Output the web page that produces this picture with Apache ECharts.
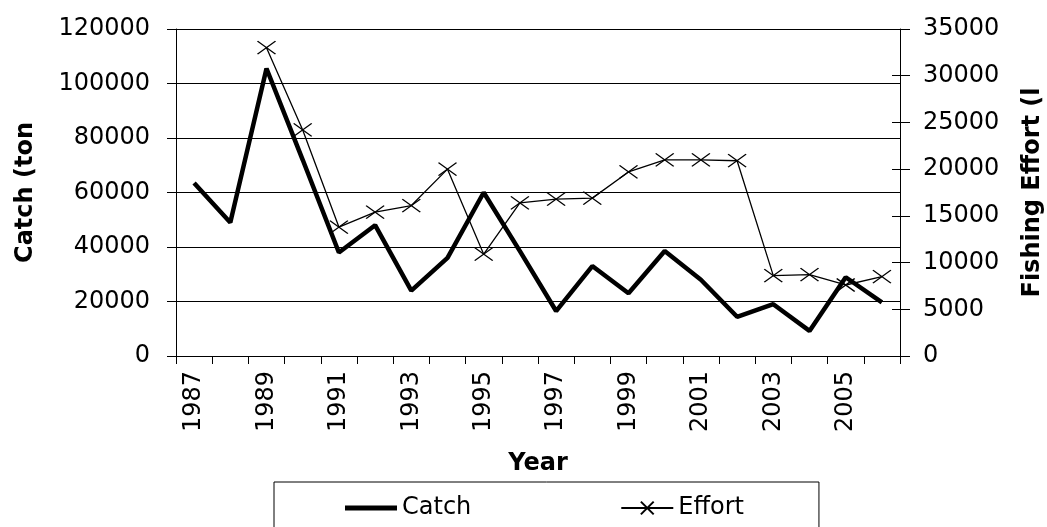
<!DOCTYPE html>
<html>
<head>
<meta charset="utf-8">
<script src="https://cdn.jsdelivr.net/npm/echarts@6/dist/echarts.min.js"></script>
<style>
html,body{margin:0;padding:0;background:#fff;}
#c{width:1047px;height:527px;}
</style>
</head>
<body>
<div id="c"></div>
<script>
const years = ['1987','1988','1989','1990','1991','1992','1993','1994','1995','1996','1997','1998','1999','2000','2001','2002','2003','2004','2005','2006'];
const catchValues = [63500, 49000, 105500, 72000, 38000, 48000, 24000, 36000, 60000, 38500, 16500, 33000, 23000, 38500, 28000, 14400, 19000, 9200, 28900, 19700];
const effortValues = [null, null, 33000, 24200, 13800, 15400, 16100, 20000, 10900, 16400, 16800, 16900, 19700, 21000, 21000, 20900, 8600, 8700, 7600, 8500];

const FONT = 'DejaVu Sans';
const plain = v => String(v);
const chart = echarts.init(document.getElementById('c'), null, {renderer: 'canvas'});
chart.setOption({
  animation: false,
  backgroundColor: '#fff',
  textStyle: {fontFamily: FONT, color: '#000'},
  grid: {left: 176, right: 147, top: 29, bottom: 171, containLabel: false, outerBoundsMode: 'none'},
  legend: {
    left: 274, top: 482,
    padding: [14, 75, 20, 71],
    itemGap: 149,
    itemWidth: 52, itemHeight: 16,
    borderColor: '#000', borderWidth: 1,
    textStyle: {fontFamily: FONT, fontSize: 24, color: '#000'},
    data: [
      {name: 'Catch', icon: 'path://M0,5.5L52,5.5L52,10.5L0,10.5Z M0,0L0,0 M52,16L52,16', itemStyle: {color: '#000'}},
      {name: 'Effort'}
    ]
  },
  xAxis: {
    type: 'category',
    data: years,
    name: 'Year',
    nameLocation: 'middle',
    nameGap: 96,
    nameTextStyle: {fontFamily: FONT, fontSize: 24, fontWeight: 'bold', color: '#000'},
    axisLine: {lineStyle: {color: '#000', width: 1}},
    axisTick: {show: true, interval: 0, length: 8, lineStyle: {color: '#000'}},
    axisLabel: {interval: 1, rotate: 90, margin: 15, fontFamily: FONT, fontSize: 24, color: '#000'},
    splitLine: {show: false}
  },
  yAxis: [
    {
      type: 'value', position: 'left', min: 0, max: 120000, interval: 20000,
      name: 'Catch (ton', nameLocation: 'middle', nameGap: 138,
      nameTextStyle: {fontFamily: FONT, fontSize: 24, fontWeight: 'bold', color: '#000'},
      axisLine: {show: true, lineStyle: {color: '#000', width: 1}},
      axisTick: {show: true, length: 9, lineStyle: {color: '#000'}},
      axisLabel: {margin: 26, fontFamily: FONT, fontSize: 24, color: '#000', formatter: plain},
      splitLine: {show: true, lineStyle: {color: '#000', width: 1}}
    },
    {
      type: 'value', position: 'right', min: 0, max: 35000, interval: 5000,
      name: 'Fishing Effort (l', nameLocation: 'middle', nameGap: 121,
      nameTextStyle: {fontFamily: FONT, fontSize: 24, fontWeight: 'bold', color: '#000'},
      axisLine: {show: true, lineStyle: {color: '#000', width: 1}},
      axisTick: {show: true, length: 10, lineStyle: {color: '#000'}},
      axisLabel: {margin: 23, fontFamily: FONT, fontSize: 24, color: '#000', formatter: plain},
      splitLine: {show: false}
    },
    {
      type: 'value', position: 'right', min: 0, max: 35000, interval: 5000,
      axisLine: {show: false},
      axisTick: {show: true, inside: true, length: 8, lineStyle: {color: '#000'}},
      axisLabel: {show: false},
      splitLine: {show: false}
    }
  ],
  series: [
    {
      name: 'Catch', type: 'line', yAxisIndex: 0,
      data: catchValues,
      symbol: 'none',
      lineStyle: {color: '#000', width: 4.5},
      itemStyle: {color: '#000'},
      z: 3
    },
    {
      name: 'Effort', type: 'line', yAxisIndex: 1,
      data: effortValues,
      symbol: 'path://M0,0L10,10M10,0L0,10',
      symbolSize: [18, 13],
      showAllSymbol: true,
      lineStyle: {color: '#000', width: 1.3},
      itemStyle: {color: 'none', borderColor: '#000', borderWidth: 1.3},
      z: 4
    }
  ]
});
</script>
</body>
</html>
